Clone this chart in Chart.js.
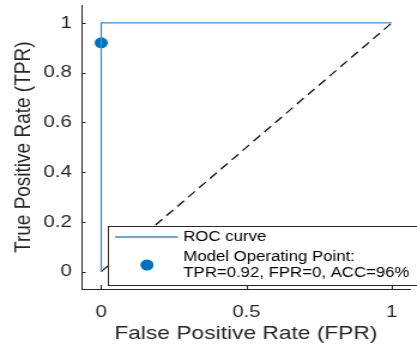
<!DOCTYPE html>
<html>
<head>
<meta charset="utf-8">
<script src="https://cdn.jsdelivr.net/npm/chart.js@4.4.1/dist/chart.umd.min.js"></script>
<style>
  html, body { margin: 0; padding: 0; background: #fff; overflow: hidden; }
  /* the reference picture is stretched sideways, so the chart is too */
  #wrap { width: 348px; height: 345px; transform: scaleX(1.198); transform-origin: 0 0; }
</style>
</head>
<body>
<div id="wrap"><canvas id="roc" width="348" height="345"></canvas></div>
<script>
const rocFpr = [0, 0, 1]
const rocTpr = [0, 1, 1]
const chanceFpr = [0, 1]
const chanceTpr = [0, 1]
const opFpr = [0]
const opTpr = [0.92]
const xTicks = [0, 0.5, 1]
const yTicks = [0, 0.2, 0.4, 0.6, 0.8, 1]
const legendLabels = [['ROC curve'], ['Model Operating Point:', 'TPR=0.92, FPR=0, ACC=96%']]

const rocColor = '#3f8dc6'
const pointColor = '#0072BD'
const axisColor = '#262626'
const fontFamily = '"Liberation Sans", Arial, sans-serif'

// MATLAB style ticks, pointing into the plot
const inwardTicks = {
  id: 'inwardTicks',
  afterDraw(chart) {
    const { ctx, chartArea, scales } = chart
    ctx.save()
    ctx.strokeStyle = axisColor
    ctx.lineWidth = 1
    ctx.beginPath()
    scales.y.ticks.forEach(t => {
      const y = Math.round(scales.y.getPixelForValue(t.value)) + 0.5
      ctx.moveTo(chartArea.left, y)
      ctx.lineTo(chartArea.left + 3.5, y)
    })
    scales.x.ticks.forEach(t => {
      const x = Math.round(scales.x.getPixelForValue(t.value)) + 0.5
      ctx.moveTo(x, chartArea.bottom)
      ctx.lineTo(x, chartArea.bottom - 4)
    })
    ctx.stroke()
    ctx.restore()
  }
}

// legend box inside the axes, lower right
const matlabLegend = {
  id: 'matlabLegend',
  afterDatasetsDraw(chart) {
    const ctx = chart.ctx
    const box = { left: 90, top: 226, right: 360, bottom: 285 }
    ctx.save()
    ctx.fillStyle = '#fff'
    ctx.fillRect(box.left, box.top, box.right - box.left, box.bottom - box.top)
    ctx.strokeStyle = axisColor
    ctx.lineWidth = 1
    ctx.strokeRect(box.left + 0.5, box.top + 0.5, box.right - box.left, box.bottom - box.top)

    // ROC curve sample
    ctx.strokeStyle = rocColor
    ctx.lineWidth = 1.3
    ctx.beginPath()
    ctx.moveTo(96, 237)
    ctx.lineTo(148.5, 237)
    ctx.stroke()

    // operating point sample
    ctx.fillStyle = pointColor
    ctx.beginPath()
    ctx.arc(122.7, 265, 5.5, 0, Math.PI * 2)
    ctx.fill()

    ctx.fillStyle = '#000'
    ctx.font = '14px ' + fontFamily
    ctx.textAlign = 'left'
    ctx.textBaseline = 'middle'
    ctx.fillText(legendLabels[0][0], 153, 237)
    ctx.fillText(legendLabels[1][0], 153, 257)
    ctx.fillText(legendLabels[1][1], 153, 273)
    ctx.restore()
  }
}

const toPoints = (xs, ys) => xs.map((x, i) => ({ x: x, y: ys[i] }))

new Chart(document.getElementById('roc'), {
  type: 'scatter',
  data: {
    datasets: [
      {
        label: legendLabels[0][0],
        data: toPoints(rocFpr, rocTpr),
        showLine: true,
        borderColor: rocColor,
        borderWidth: 1.3,
        pointRadius: 0,
        fill: false
      },
      {
        label: 'chance',
        data: toPoints(chanceFpr, chanceTpr),
        showLine: true,
        borderColor: '#111',
        borderWidth: 1.3,
        borderDash: [8, 5],
        pointRadius: 0,
        fill: false
      },
      {
        label: legendLabels[1].join(' '),
        data: toPoints(opFpr, opTpr),
        pointRadius: 5.5,
        pointBackgroundColor: pointColor,
        pointBorderColor: pointColor,
        pointBorderWidth: 0
      }
    ]
  },
  options: {
    responsive: false,
    animation: false,
    layout: { padding: { top: 5, right: 0, bottom: 0, left: 0 } },
    plugins: {
      legend: { display: false },
      tooltip: { enabled: false }
    },
    scales: {
      x: {
        type: 'linear',
        min: -0.068,
        max: 1.064,
        afterBuildTicks: s => { s.ticks = xTicks.map(v => ({ value: v })) },
        afterFit: s => { s.height = 56; s.paddingLeft = 0; s.paddingRight = 0 },
        ticks: { color: axisColor, padding: 13, font: { family: fontFamily, size: 17 }, callback: v => String(v), maxRotation: 0 },
        grid: { display: true, drawOnChartArea: false, drawTicks: false },
        border: { display: true, color: axisColor, width: 1 },
        title: { display: true, text: 'False Positive Rate (FPR)', color: axisColor, font: { family: fontFamily, size: 19 }, padding: { top: 0, bottom: 0 } }
      },
      y: {
        type: 'linear',
        min: -0.07,
        max: 1.07,
        afterBuildTicks: s => { s.ticks = yTicks.map(v => ({ value: v })) },
        afterFit: s => { s.width = 68; s.paddingTop = 0; s.paddingBottom = 0 },
        ticks: { color: axisColor, padding: 8, font: { family: fontFamily, size: 17 }, callback: v => String(v) },
        grid: { display: true, drawOnChartArea: false, drawTicks: false },
        border: { display: true, color: axisColor, width: 1 },
        title: { display: true, text: 'True Positive Rate (TPR)', color: axisColor, font: { family: fontFamily, size: 19 }, padding: { top: 8, bottom: 0 } }
      }
    }
  },
  plugins: [inwardTicks, matlabLegend]
})
</script>
</body>
</html>
